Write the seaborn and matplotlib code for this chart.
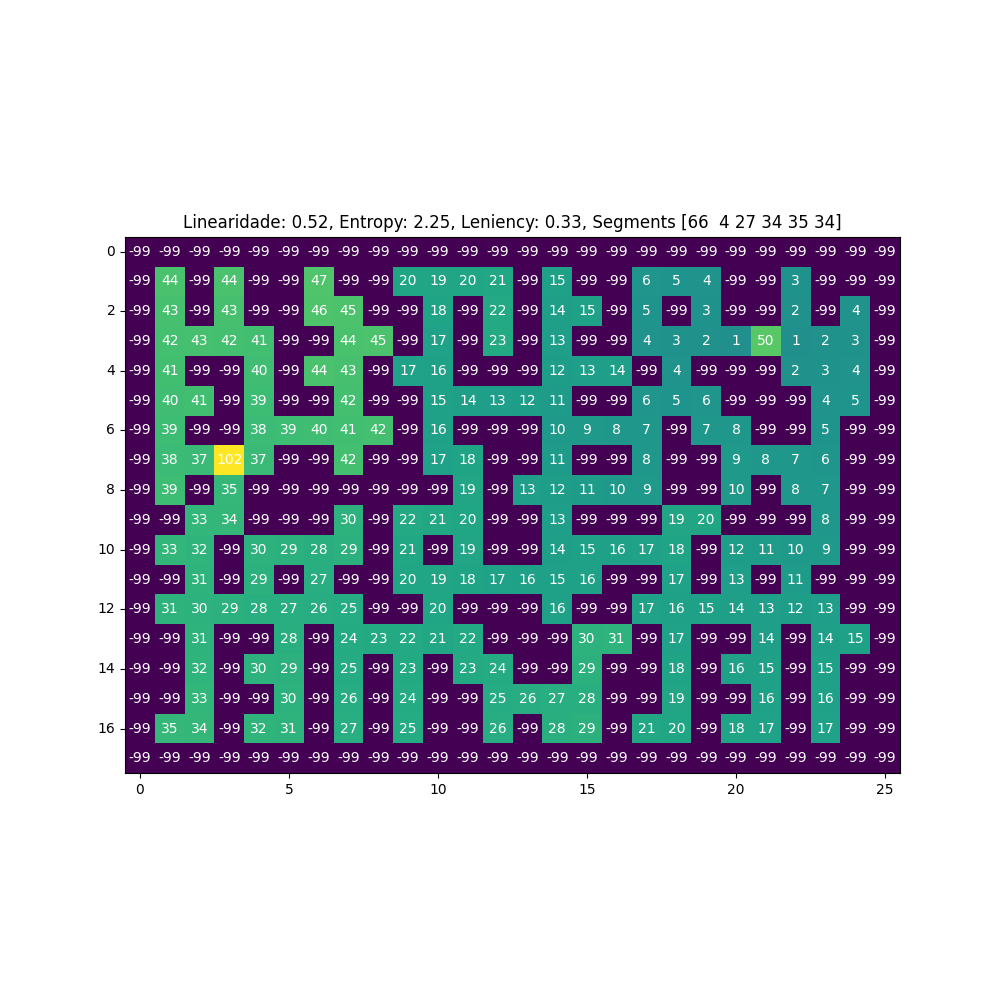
import numpy as np
import matplotlib
matplotlib.use("Agg")
import matplotlib.pyplot as plt
import seaborn as sns

W = -99  # wall value

# level grid, row by row (18 rows x 26 cols)
row00 = [W] * 26
row01 = [W, 44, W, 44, W, W, 47, W, W, 20, 19, 20, 21, W, 15, W, W, 6, 5, 4, W, W, 3, W, W, W]
row02 = [W, 43, W, 43, W, W, 46, 45, W, W, 18, W, 22, W, 14, 15, W, 5, W, 3, W, W, 2, W, 4, W]
row03 = [W, 42, 43, 42, 41, W, W, 44, 45, W, 17, W, 23, W, 13, W, W, 4, 3, 2, 1, 50, 1, 2, 3, W]
row04 = [W, 41, W, W, 40, W, 44, 43, W, 17, 16, W, W, W, 12, 13, 14, W, 4, W, W, W, 2, 3, 4, W]
row05 = [W, 40, 41, W, 39, W, W, 42, W, W, 15, 14, 13, 12, 11, W, W, 6, 5, 6, W, W, W, 4, 5, W]
row06 = [W, 39, W, W, 38, 39, 40, 41, 42, W, 16, W, W, W, 10, 9, 8, 7, W, 7, 8, W, W, 5, W, W]
row07 = [W, 38, 37, 102, 37, W, W, 42, W, W, 17, 18, W, W, 11, W, W, 8, W, W, 9, 8, 7, 6, W, W]
row08 = [W, 39, W, 35, W, W, W, W, W, W, W, 19, W, 13, 12, 11, 10, 9, W, W, 10, W, 8, 7, W, W]
row09 = [W, W, 33, 34, W, W, W, 30, W, 22, 21, 20, W, W, 13, W, W, W, 19, 20, W, W, W, 8, W, W]
row10 = [W, 33, 32, W, 30, 29, 28, 29, W, 21, W, 19, W, W, 14, 15, 16, 17, 18, W, 12, 11, 10, 9, W, W]
row11 = [W, W, 31, W, 29, W, 27, W, W, 20, 19, 18, 17, 16, 15, 16, W, W, 17, W, 13, W, 11, W, W, W]
row12 = [W, 31, 30, 29, 28, 27, 26, 25, W, W, 20, W, W, W, 16, W, W, 17, 16, 15, 14, 13, 12, 13, W, W]
row13 = [W, W, 31, W, W, 28, W, 24, 23, 22, 21, 22, W, W, W, 30, 31, W, 17, W, W, 14, W, 14, 15, W]
row14 = [W, W, 32, W, 30, 29, W, 25, W, 23, W, 23, 24, W, W, 29, W, W, 18, W, 16, 15, W, 15, W, W]
row15 = [W, W, 33, W, W, 30, W, 26, W, 24, W, W, 25, 26, 27, 28, W, W, 19, W, W, 16, W, 16, W, W]
row16 = [W, 35, 34, W, 32, 31, W, 27, W, 25, W, W, 26, W, 28, 29, W, 21, 20, W, 18, 17, W, 17, W, W]
row17 = [W] * 26

grid = np.array([row00, row01, row02, row03, row04, row05, row06, row07, row08,
                 row09, row10, row11, row12, row13, row14, row15, row16, row17])

title = "Linearidade: 0.52, Entropy: 2.25, Leniency: 0.33, Segments [66  4 27 34 35 34]"

fig, ax = plt.subplots(figsize=(10, 10), dpi=100)
sns.heatmap(grid, cmap="viridis", annot=True, fmt="d", cbar=False, ax=ax,
            annot_kws={"color": "white", "fontsize": 10})
ax.set_aspect("equal")

nrows, ncols = grid.shape
xt = np.arange(0, ncols, 5)
yt = np.arange(0, nrows, 2)
ax.set_xticks(xt + 0.5)
ax.set_xticklabels([str(v) for v in xt], rotation=0)
ax.set_yticks(yt + 0.5)
ax.set_yticklabels([str(v) for v in yt], rotation=0)
ax.tick_params(length=3.5, width=0.8, labelsize=10)
for s in ax.spines.values():
    s.set_visible(True)
    s.set_linewidth(0.8)
ax.set_title(title, fontsize=12)

plt.savefig("out.png", dpi=100)
